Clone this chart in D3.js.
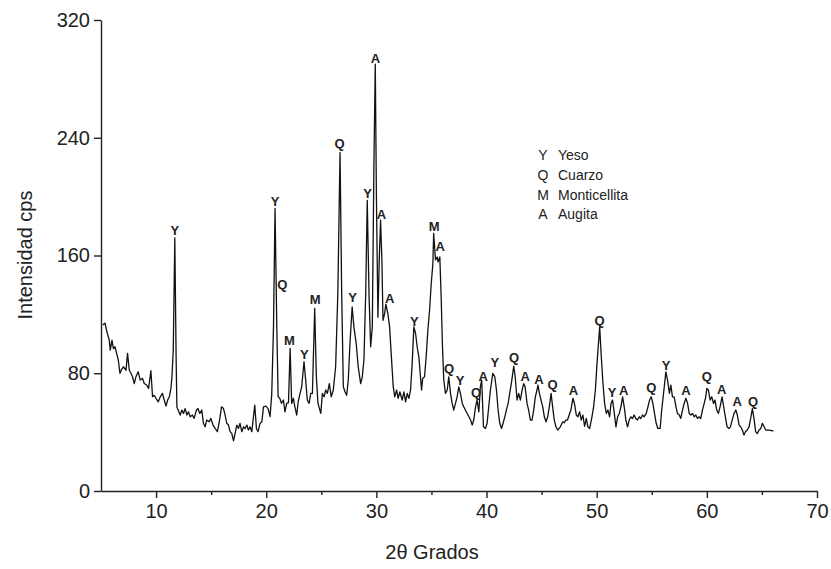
<!DOCTYPE html>
<html>
<head>
<meta charset="utf-8">
<script src="https://cdn.jsdelivr.net/npm/d3@7"></script>
<style>
  body { margin: 0; background: #fff; }
  text { font-family: "Liberation Sans", Arial, sans-serif; fill: #222; }
  .Axis path, .Axis line { stroke: #222; stroke-width: 1.4; }
  .Axis text { font-size: 20px; }
  .peak { font-size: 13px; font-weight: bold; }
  .legend { font-size: 14px; }
</style>
</head>
<body>
<div id="chart"></div>
<script>
// CHART START
const width = 831
const height = 569
const margin = { top: 20, bottom: 78, left: 101, right: 14 }

const twoTheta = [5.15,5.36,5.54,5.75,5.84,6.0,6.12,6.27,6.42,6.57,6.72,6.87,7.05,7.27,7.41,7.57,7.72,7.86,8.02,8.17,8.38,8.56,8.77,8.93,9.14,9.32,9.53,9.68,9.83,9.99,10.2,10.38,10.58,10.74,10.9,11.05,11.2,11.35,11.44,11.56,11.7,11.82,11.89,12.0,12.19,12.34,12.49,12.64,12.8,12.94,13.1,13.3,13.45,13.67,13.8,13.97,14.15,14.3,14.45,14.6,14.82,14.97,15.17,15.36,15.57,15.79,15.94,16.12,16.27,16.42,16.57,16.72,16.88,17.03,17.17,17.33,17.48,17.62,17.78,17.94,18.08,18.24,18.38,18.53,18.69,18.84,18.96,19.11,19.26,19.44,19.6,19.75,19.96,20.17,20.35,20.5,20.66,20.8,20.96,21.08,21.23,21.38,21.56,21.7,21.86,22.02,22.17,22.31,22.47,22.6,22.77,22.9,23.07,23.22,23.43,23.58,23.73,23.89,24.04,24.19,24.4,24.55,24.7,24.95,25.1,25.25,25.4,25.55,25.73,25.9,26.09,26.3,26.5,26.7,26.85,27.0,27.15,27.3,27.45,27.6,27.8,27.96,28.17,28.35,28.57,28.72,28.87,29.03,29.17,29.33,29.48,29.63,29.78,29.9,30.0,30.14,30.26,30.38,30.5,30.6,30.75,30.86,31.04,31.2,31.38,31.53,31.67,31.84,31.98,32.13,32.34,32.5,32.65,32.8,32.95,33.1,33.25,33.4,33.56,33.7,33.86,34.0,34.1,34.2,34.37,34.52,34.67,34.83,34.98,35.13,35.2,35.37,35.52,35.6,35.76,35.88,36.0,36.12,36.27,36.43,36.57,36.73,36.88,37.02,37.18,37.33,37.48,37.63,37.8,37.93,38.08,38.24,38.4,38.55,38.7,38.84,39.0,39.14,39.3,39.44,39.56,39.72,39.9,40.05,40.2,40.35,40.57,40.75,40.9,41.05,41.2,41.36,41.5,41.66,41.8,41.96,42.1,42.25,42.47,42.6,42.77,42.92,43.07,43.23,43.37,43.5,43.68,43.82,43.98,44.13,44.28,44.43,44.58,44.67,44.8,44.95,45.1,45.25,45.4,45.55,45.7,45.86,46.0,46.15,46.3,46.45,46.7,46.92,47.05,47.2,47.35,47.5,47.66,47.84,47.98,48.15,48.3,48.45,48.6,48.75,48.9,49.06,49.2,49.36,49.57,49.72,49.88,50.03,50.27,50.42,50.57,50.72,50.87,51.02,51.17,51.3,51.44,51.6,51.75,51.9,52.05,52.2,52.35,52.5,52.65,52.8,52.95,53.1,53.25,53.4,53.55,53.7,53.86,54.0,54.16,54.3,54.5,54.65,54.8,54.95,55.1,55.25,55.4,55.55,55.76,55.9,56.07,56.28,56.43,56.6,56.73,56.88,57.03,57.2,57.33,57.5,57.63,57.79,57.94,58.1,58.25,58.4,58.55,58.7,58.85,59.0,59.15,59.3,59.45,59.6,59.76,59.9,60.0,60.14,60.3,60.45,60.6,60.74,60.9,61.05,61.2,61.38,61.53,61.68,61.84,62.0,62.14,62.3,62.47,62.63,62.77,62.93,63.07,63.22,63.37,63.5,63.67,63.83,63.98,64.13,64.28,64.43,64.58,64.74,64.9,65.04,65.2,65.35,65.6,65.9,66.04]
const intensity = [112.7,114,108,102.5,95.7,102.5,96.8,98,93.5,89,80,82.6,84.4,82,93.5,82,80,77.6,73,77.6,81,75.4,76.5,73,72,69.7,81.7,64,65,63,60.6,64,66.3,61.8,57.7,61.8,64,69.7,77.6,95.7,172,90,57,55,51.6,55,52.7,56,51.6,53.8,50.4,51.6,49.3,55,56,52.7,55,46,43.6,48.2,47,49.3,44.8,42.5,40.3,49.3,57.2,56,51.6,46,44.8,40.3,39,34,39,44.8,42.5,46,40.3,43.6,42.5,44.8,41.4,43.6,40.3,50.4,58.4,42.5,40.3,46,47,57.2,57.7,56,50.5,66,111.5,192,111.5,64,63,59.5,61.8,53.8,59.5,60,96.8,59.5,63,57.2,51.6,60.6,66.3,70.8,87.8,75.4,61.8,59.5,66.3,66.3,124,77.6,59.5,52.7,66.3,64,68.6,66.3,73,64,68.6,84.4,134,230,134,70.8,67.4,65,75.4,100,125,111.5,100,84.4,73,77.6,89,134,197.5,134,98,111.5,224.7,290,202,118,157,184,157,116,120.6,127,120.6,111.5,89,70.8,64,68.6,63,67.4,61.8,67.4,60.6,66.3,63,68.6,86.7,111.5,107,98,91,77.6,68.6,76.5,77.6,91,109,123,141,154.6,175,157,159,155.6,159,132,98,75.4,66.3,68.6,77.6,66.3,59.5,55,59.5,64,70.8,66.3,59.5,57.2,55,52.7,50.4,48.2,44.8,48.2,57.2,61.8,53.8,70.8,75.4,43.6,42.5,46,57.2,68.6,79.9,77.6,68.6,55,46,42.5,46,50.4,55,59.5,66.3,73,84.9,77.6,61.8,66.3,61.8,68.6,73,70.8,59.5,55,48.2,48.2,55,64,68.6,72,66.3,61.8,57.2,50.4,47,50.4,57.2,66.3,57.2,48.2,43.6,41.4,43.6,47,46.4,48.2,48.2,51.6,55,63,59.5,51.6,50.4,53.8,48.2,51.6,44,49.3,43.6,42.5,50.4,57.2,68.6,86.7,111.5,91,73,59.5,52.7,55,50.4,59.5,61.8,52.7,43.6,50.4,52.7,57.2,64,57.2,48.2,43.6,48.2,50.4,49.3,51.6,49.3,48.2,50.4,49.3,51.6,50.4,52.7,57.2,61.8,64,59.5,52.7,46,42.5,42.5,55,66.3,81,75.4,66.3,72,64,64,57.2,52.7,51.6,49.3,55,59.5,63,59.5,52.7,51.6,52.7,50.4,51.6,49.3,50.4,49.3,55,59.5,64,69.7,68.6,61.8,64,59.5,61.8,55,52.7,57.2,64,57.2,50.4,43.6,42.5,43.6,48.2,52.7,55,51.6,44.8,43.6,41.4,38,40.3,41.4,43.6,49.3,56,49.3,40.3,39,41.4,42.5,46,43.6,41.4,41.4,41,40.7]

// etiquetas de fase sobre los picos
const labelPhase = ["Y","Y","Q","M","Y","M","Q","Y","Y","A","A","A","Y","M","A","Q","Y","Q","A","Y","Q","A","A","Q","A","Q","Y","A","Q","Y","A","Q","A","A","Q"]
const labelX = [11.7,20.8,21.45,22.1,23.45,24.45,26.65,27.85,29.2,29.92,30.47,31.2,33.45,35.25,35.8,36.6,37.6,39.05,39.7,40.75,42.5,43.5,44.75,46.0,47.9,50.27,51.4,52.45,54.95,56.3,58.1,60.0,61.35,62.75,64.2]
const labelY = [177,197,140.5,102.5,93,130,236,131.5,202,294,188,131,115,180,166,83.5,75,67,78,87.5,91,77.5,76,72.6,68,116,67,68,70,85.5,68,78,69,61,61]

// leyenda
const legendCodes = ["Y","Q","M","A"]
const legendNames = ["Yeso","Cuarzo","Monticellita","Augita"]

// ticks
const xTicks = [10,20,30,40,50,60,70]
const xMinorTicks = [15,25,35,45,55,65]
const yTicks = [0,80,160,240,320]

const data = twoTheta.map((d, i) => ({ x: d, y: intensity[i] }))
const labels = labelPhase.map((d, i) => ({ t: d, x: labelX[i], y: labelY[i] }))

const svg = d3.select("#chart")
    .append("svg")
    .attr("width", width)
    .attr("height", height)

// escalas
const x = d3.scaleLinear()
    .domain([5, 70])
    .range([margin.left, width - margin.right])
const y = d3.scaleLinear()
    .domain([0, 320])
    .range([height - margin.bottom, margin.top])

// ejes
const xAxis = d3.axisBottom(x).tickValues(xTicks).tickSize(7).tickSizeOuter(0).tickPadding(6)
const xAxisMinor = d3.axisBottom(x).tickValues(xMinorTicks).tickSize(4).tickFormat("")
const yAxis = d3.axisLeft(y).tickValues(yTicks).tickSize(7).tickSizeOuter(0).tickPadding(4)

svg.append("g")
    .attr("class", "Axis")
    .attr("transform", `translate(0,${height - margin.bottom})`)
    .call(xAxis)
svg.append("g")
    .attr("class", "Axis")
    .attr("transform", `translate(0,${height - margin.bottom})`)
    .call(xAxisMinor)
    .select(".domain").remove()
svg.append("g")
    .attr("class", "Axis")
    .attr("transform", `translate(${margin.left},0)`)
    .call(yAxis)

// titulos de ejes
svg.append("text")
    .attr("text-anchor", "middle")
    .attr("x", 432)
    .attr("y", 559)
    .style("font-size", "20px")
    .text("2θ Grados")

svg.append("text")
    .attr("text-anchor", "middle")
    .attr("transform", "translate(32,255) rotate(-90)")
    .style("font-size", "20px")
    .text("Intensidad cps")

// difractograma
const line = d3.line()
    .x(d => x(d.x))
    .y(d => y(d.y))

svg.append("path")
    .datum(data)
    .attr("fill", "none")
    .attr("stroke", "#111")
    .attr("stroke-width", 1.3)
    .attr("stroke-linejoin", "round")
    .attr("d", line)

// etiquetas de picos
svg.selectAll(".peak")
    .data(labels)
    .enter()
    .append("text")
    .attr("class", "peak")
    .attr("text-anchor", "middle")
    .attr("dominant-baseline", "central")
    .attr("x", d => x(d.x))
    .attr("y", d => y(d.y))
    .text(d => d.t)

// leyenda
const legend = svg.append("g").attr("transform", "translate(543,160)")
legend.selectAll(".code")
    .data(legendCodes)
    .enter()
    .append("text")
    .attr("class", "legend")
    .attr("text-anchor", "middle")
    .attr("y", (d, i) => i * 19.8)
    .text(d => d)
legend.selectAll(".name")
    .data(legendNames)
    .enter()
    .append("text")
    .attr("class", "legend")
    .attr("x", 15)
    .attr("y", (d, i) => i * 19.8)
    .text(d => d)
</script>
</body>
</html>
